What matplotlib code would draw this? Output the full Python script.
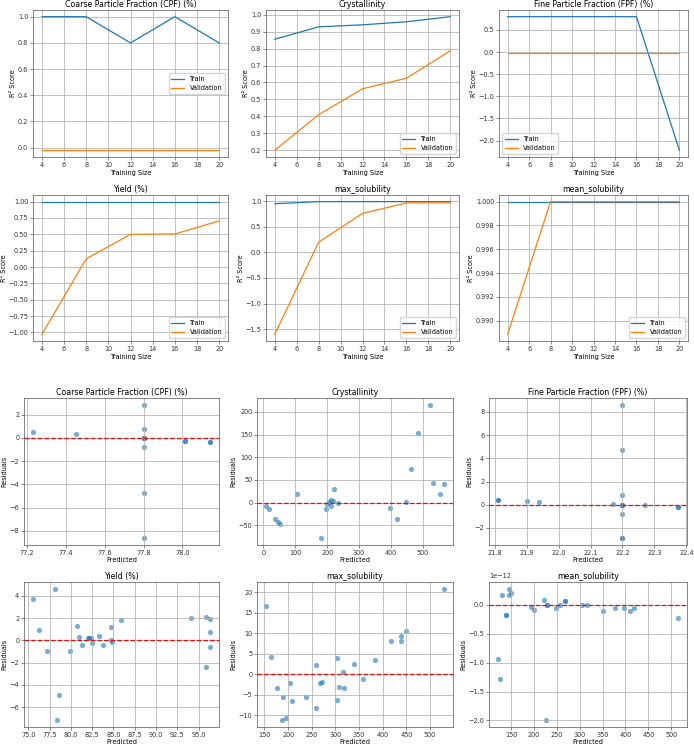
"""Learning curves and residual plots for the formulation targets."""

import matplotlib
matplotlib.use("Agg")
import matplotlib.pyplot as plt
from matplotlib.ticker import MultipleLocator
import numpy as np

W, H, DPI = 694, 750, 100

TITLE_FS = 5.7
LABEL_FS = 4.7
TICK_FS = 4.7

targets = ["Coarse Particle Fraction (CPF) (%)", "Crystallinity",
           "Fine Particle Fraction (FPF) (%)", "Yield (%)",
           "max_solubility", "mean_solubility"]

train_sizes = [4, 8, 12, 16, 20]

# learning curve scores (R2)
train_scores = [
    [1.0, 1.0, 0.8, 1.0, 0.8],
    [0.855, 0.928, 0.94, 0.958, 0.988],
    [0.80, 0.80, 0.80, 0.80, -2.22],
    [1.0, 1.0, 1.0, 1.0, 1.0],
    [0.95, 0.99, 0.99, 0.99, 0.99],
    [1.0, 1.0, 1.0, 1.0, 1.0],
]
val_scores = [
    [-0.02, -0.02, -0.02, -0.02, -0.02],
    [0.20, 0.41, 0.563, 0.625, 0.787],
    [-0.02, -0.02, -0.02, -0.02, -0.02],
    [-1.03, 0.125, 0.50, 0.505, 0.705],
    [-1.60, 0.20, 0.76, 0.965, 0.965],
    [0.98885, 1.0, 1.0, 1.0, 1.0],
]
legend_locs = ["center right", "lower right", "lower left",
               "lower right", "lower right", "lower right"]

# residual plots: predicted values and residuals
cpf_pred = [77.232, 77.454, 77.8, 77.8, 77.8, 77.8, 77.8, 77.8, 77.8, 77.8,
            78.014, 78.014, 78.142, 78.142]
cpf_res = [0.55, 0.35, 2.86, 0.78, 0.0, 0.0, 0.0, -0.82, -4.74, -8.63,
           -0.23, -0.23, -0.36, -0.36]

cry_pred = [8, 17, 37, 47, 51, 106, 182, 196, 199, 207, 211, 213, 217, 221,
            234, 396, 420, 448, 462, 485, 522, 531, 555, 567]
cry_res = [-8, -15, -36, -44, -48, 19, -79, -14, -3, 1, -7, 5, 4, 29,
           0, -13, -36, 1, 74, 154, 216, 43, 19, 42]

fpf_pred = [21.81, 21.81, 21.90, 21.94, 22.17, 22.2, 22.2, 22.2, 22.2, 22.2,
            22.2, 22.2, 22.2, 22.2, 22.27, 22.374, 22.374]
fpf_res = [0.4, 0.4, 0.31, 0.26, 0.03, 8.63, 4.72, 0.8, 0.0, 0.0,
           0.0, -0.8, -2.9, -2.9, -0.06, -0.17, -0.17]

yield_pred = [75.54, 76.27, 77.23, 78.19, 78.38, 78.65, 79.85, 80.73, 80.96,
              81.35, 82.04, 82.10, 82.31, 82.54, 83.35, 83.81, 84.77, 84.77,
              84.88, 85.88, 94.1, 95.85, 95.9, 96.35, 96.35, 96.3]
yield_res = [3.76, 0.91, -0.97, 4.65, -7.18, -4.91, -0.94, 1.29, 0.32,
             -0.41, 0.18, 0.18, 0.18, -0.2, 0.41, -0.44, 1.18, 0.06,
             -0.12, 1.82, 2.0, 2.09, -2.38, 1.88, 0.71, -0.56]

maxs_pred = [153, 164, 176, 186, 190, 196, 205, 209, 238, 258, 259, 268, 271,
             303, 303, 307, 317, 319, 340, 358, 383, 418, 438, 438, 449, 530]
maxs_res = [16.6, 4.2, -3.4, -11.2, -5.5, -10.5, -2.2, -6.5, -5.5, 2.2, -8.2,
            -2.2, -1.9, 4.0, -6.3, -3.1, 0.5, -3.3, 2.5, -1.0, 3.6, 8.1, 9.3,
            8.2, 10.5, 20.9]

means_pred = [121.6, 126, 130.4, 138.5, 138.5, 146, 146.6, 150.3, 193.7, 201,
              221.6, 227.5, 229, 229, 248, 257.7, 268.7, 268.7, 304.8, 316.5,
              351, 377, 398, 410, 419.5, 515]
means_res = [-0.93e-12, -1.28e-12, 0.17e-12, -0.17e-12, -0.17e-12, 0.28e-12,
             0.17e-12, 0.20e-12, -0.03e-12, -0.09e-12, 0.08e-12, -2.0e-12,
             0.0, 0.0, -0.06e-12, -0.01e-12, 0.06e-12, 0.06e-12, 0.0, 0.0,
             -0.11e-12, -0.06e-12, -0.06e-12, -0.11e-12, -0.06e-12,
             -0.23e-12]

residual_data = [(cpf_pred, cpf_res), (cry_pred, cry_res), (fpf_pred, fpf_res),
                 (yield_pred, yield_res), (maxs_pred, maxs_res),
                 (means_pred, means_res)]

# x tick steps for the residual panels
resid_xsteps = [0.2, 100, 0.1, 2.5, 50, 50]

# axes boxes in pixels: left, top, right, bottom
curve_cols = [(33, 228), (266, 459), (499, 688)]
curve_rows = [(10, 157), (195, 341)]
resid_cols = [(24, 219), (257, 453), (489, 687)]
resid_rows = [(398, 545), (582, 727)]


def add_axes_px(fig, left, top, right, bottom):
    """Add axes from pixel coordinates."""
    return fig.add_axes([left / W, 1 - bottom / H, (right - left) / W, (bottom - top) / H])


def style_axes(ax):
    """Common look of all panels."""
    ax.grid(True, color="#b0b0b0", linewidth=0.55)
    ax.tick_params(labelsize=TICK_FS, width=0.4, length=2, pad=1.5, colors="#333333")
    for sp in ax.spines.values():
        sp.set_linewidth(0.5)
        sp.set_color("#555555")
    ax.yaxis.get_offset_text().set_fontsize(TICK_FS)


fig = plt.figure(figsize=(W / DPI, H / DPI), dpi=DPI)

for i, name in enumerate(targets):
    r, c = divmod(i, 3)
    ax = add_axes_px(fig, curve_cols[c][0], curve_rows[r][0], curve_cols[c][1], curve_rows[r][1])
    ax.plot(train_sizes, train_scores[i], label="Train", linewidth=0.9)
    ax.plot(train_sizes, val_scores[i], label="Validation", linewidth=0.9)
    ax.set_xticks(np.arange(4, 21, 2))
    ax.set_title(name, fontsize=TITLE_FS, pad=2)
    ax.set_xlabel("Training Size", fontsize=LABEL_FS, labelpad=1.2)
    ax.set_ylabel("R² Score", fontsize=LABEL_FS, labelpad=1.2)
    ax.legend(loc=legend_locs[i], fontsize=LABEL_FS)
    style_axes(ax)

for i, name in enumerate(targets):
    r, c = divmod(i, 3)
    ax = add_axes_px(fig, resid_cols[c][0], resid_rows[r][0], resid_cols[c][1], resid_rows[r][1])
    pred, res = residual_data[i]
    ax.scatter(pred, res, s=14, alpha=0.6, linewidths=0)
    ax.axhline(0, color="red", linestyle="--", linewidth=0.9)
    ax.xaxis.set_major_locator(MultipleLocator(resid_xsteps[i]))
    ax.set_title(name, fontsize=TITLE_FS, pad=2)
    ax.set_xlabel("Predicted", fontsize=LABEL_FS, labelpad=1.0)
    ax.set_ylabel("Residuals", fontsize=LABEL_FS, labelpad=1.2)
    style_axes(ax)

fig.savefig("out.png", dpi=DPI, facecolor="white")
plt.close(fig)
